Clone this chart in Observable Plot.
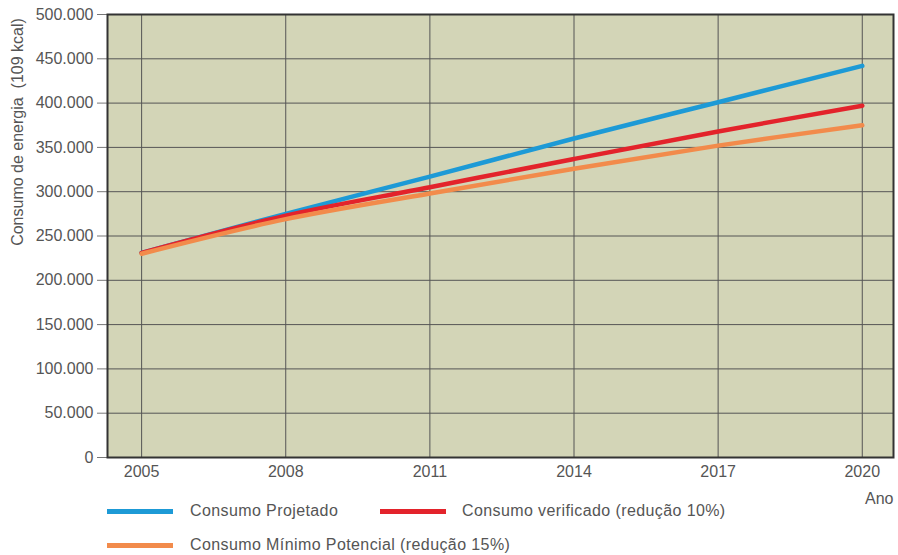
<!DOCTYPE html>
<html>
<head>
<meta charset="utf-8">
<script src="https://cdn.jsdelivr.net/npm/d3@7"></script>
<script src="https://cdn.jsdelivr.net/npm/@observablehq/plot@0.6"></script>
<style>
  body { margin: 0; background: #fff; font-family: "Liberation Sans", Arial, sans-serif; }
  #wrap { position: relative; width: 898px; height: 555px; }
  .lbl { position: absolute; color: #555; font-size: 16px; white-space: pre; line-height: 18px; }
  .sw { position: absolute; width: 66px; height: 5px; }
</style>
</head>
<body>
<div id="wrap"></div>
<script>
const years = [2005, 2008, 2011, 2014, 2017, 2020];
const projetado = [231000, 275000, 317000, 360000, 401000, 442000];
const verificado = [231000, 273000, 305000, 337000, 368000, 397000];
const minimo = [230000, 269000, 298000, 326000, 352000, 375000];
const seriesNames = ["Consumo Projetado", "Consumo verificado (redução 10%)", "Consumo Mínimo Potencial (redução 15%)"];
const seriesColors = ["#1d9ad6", "#e3232b", "#f28b4b"];
const yTicks = [0, 50000, 100000, 150000, 200000, 250000, 300000, 350000, 400000, 450000, 500000];

const allSeries = [projetado, verificado, minimo];
const data = [];
allSeries.forEach((vals, si) => vals.forEach((v, i) => data.push({year: years[i], value: v, series: seriesNames[si]})));

const loc = d3.formatLocale({decimal: ",", thousands: ".", grouping: [3], currency: ["", ""]});
const fmt = loc.format(",.0f");

const plot = Plot.plot({
  width: 898,
  height: 490,
  marginLeft: 107,
  marginRight: 5,
  marginTop: 14,
  marginBottom: 33,
  style: {fontFamily: "Liberation Sans, Arial, sans-serif", fontSize: "16px", color: "#555", background: "#fff"},
  x: {domain: [2004.29, 2020.65]},
  y: {domain: [0, 500000]},
  color: {domain: seriesNames, range: seriesColors},
  marks: [
    Plot.frame({fill: "#d3d5b7"}),
    Plot.gridX(years, {stroke: "#555", strokeOpacity: 1, strokeWidth: 1}),
    Plot.gridY(yTicks, {stroke: "#555", strokeOpacity: 1, strokeWidth: 1}),
    Plot.axisX(years, {tickSize: 0, tickPadding: 8, tickFormat: d => String(d), label: null, fill: "#555", fontSize: 16}),
    Plot.axisY(yTicks, {tickSize: 10, tickPadding: 4, tickFormat: d => fmt(d), label: null, stroke: "#777", fill: "#555", fontSize: 16}),
    Plot.line(data, {x: "year", y: "value", z: "series", stroke: "series", strokeWidth: 4.5, curve: "catmull-rom"}),
    Plot.frame({stroke: "#333", strokeWidth: 2})
  ]
});

const wrap = document.getElementById("wrap");
wrap.appendChild(plot);

function addLabel(text, left, top, extra) {
  const d = document.createElement("div");
  d.className = "lbl";
  d.textContent = text;
  d.style.left = left + "px";
  d.style.top = top + "px";
  if (extra) Object.assign(d.style, extra);
  wrap.appendChild(d);
  return d;
}
function addSwatch(color, left, top) {
  const s = document.createElement("div");
  s.className = "sw";
  s.style.background = color;
  s.style.left = left + "px";
  s.style.top = top + "px";
  wrap.appendChild(s);
}

// y axis title (rotated)
addLabel("Consumo de energia  (109 kcal)", 18, 132, {transform: "translate(-50%, -50%) rotate(-90deg)", transformOrigin: "center", left: "18px"});
// x axis title
addLabel("Ano", 865, 490);
// legend
const legendStyle = {letterSpacing: "0.4px"};
addSwatch(seriesColors[0], 107, 509);
addLabel(seriesNames[0], 190, 502, legendStyle);
addSwatch(seriesColors[1], 380, 509);
addLabel(seriesNames[1], 462, 502, legendStyle);
addSwatch(seriesColors[2], 107, 543);
addLabel(seriesNames[2], 190, 536, legendStyle);
</script>
</body>
</html>
